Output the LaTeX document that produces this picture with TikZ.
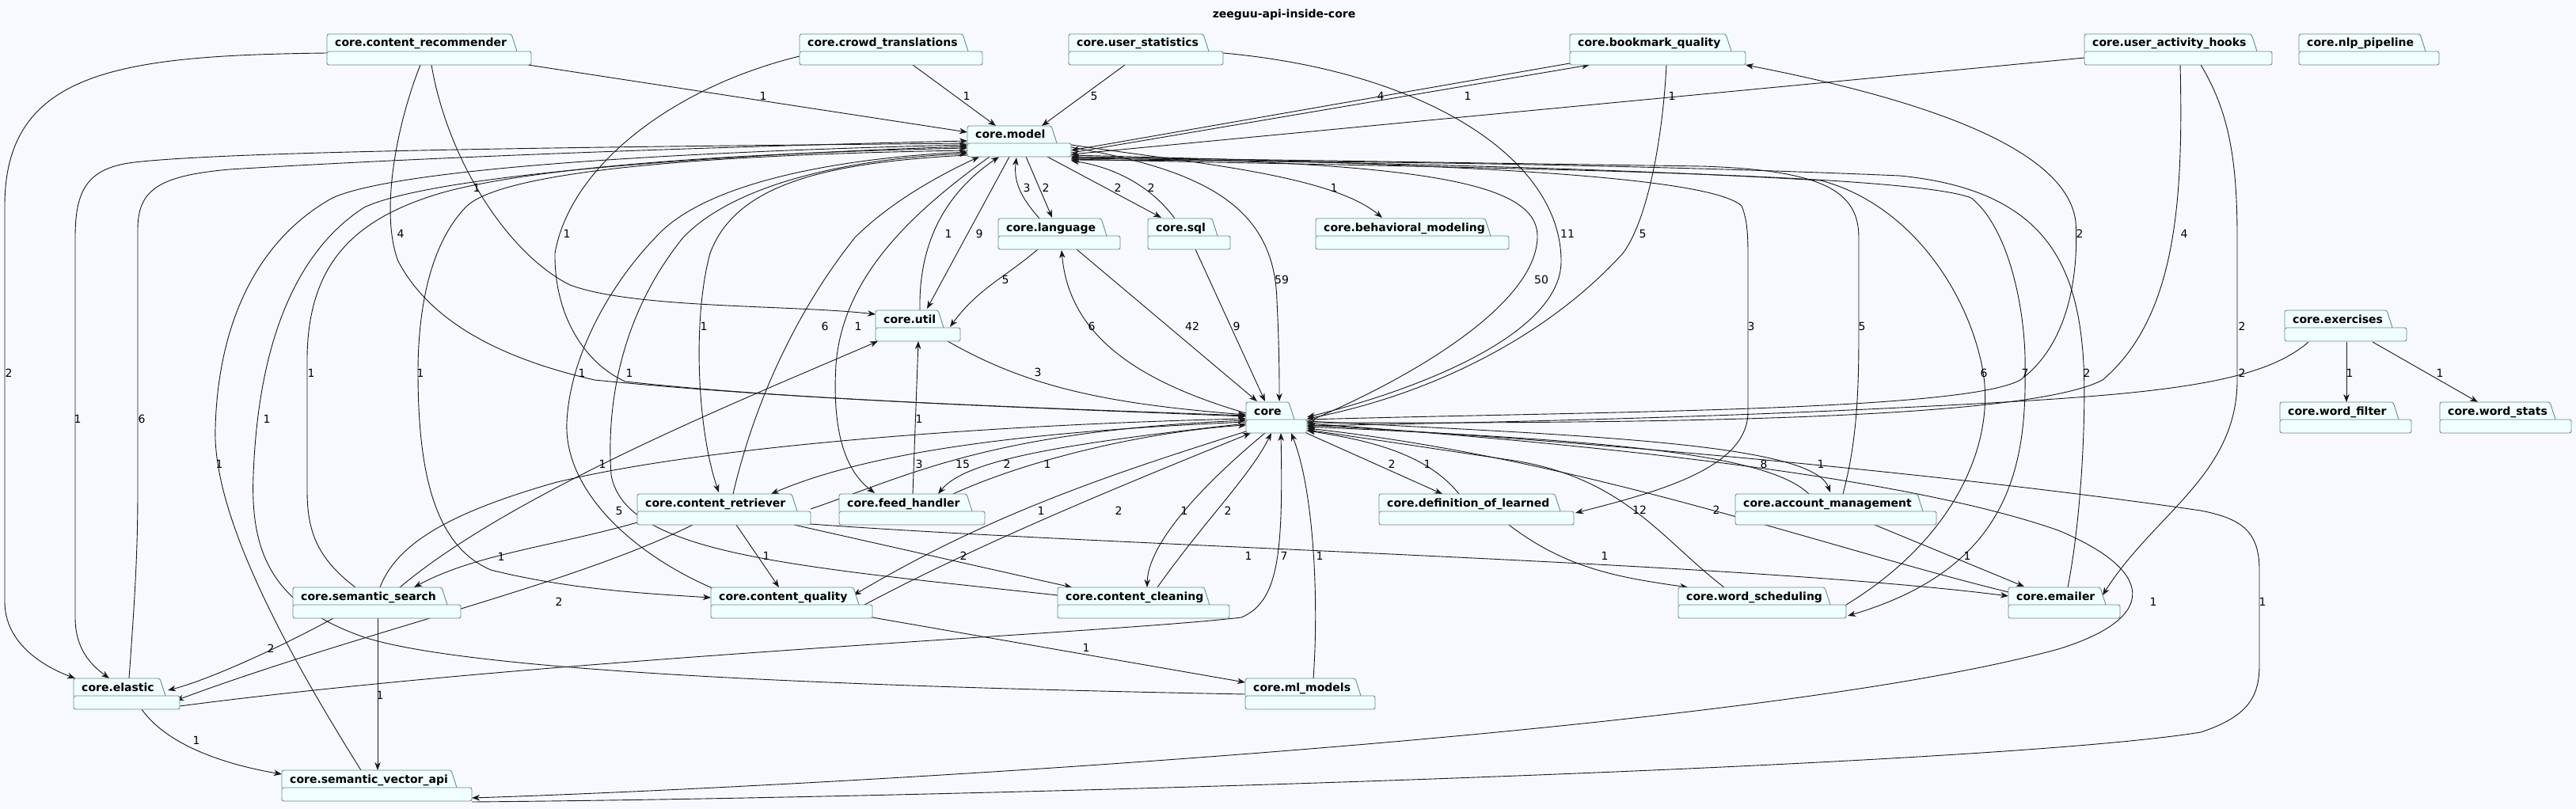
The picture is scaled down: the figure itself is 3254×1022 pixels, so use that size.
\documentclass[tikz,border=0pt]{standalone}
\usepackage{fontspec}
\setmainfont{DejaVu Sans}
\usetikzlibrary{arrows.meta}
\definecolor{bg}{HTML}{F8F9FE}
\definecolor{pkgfill}{HTML}{F0FFFE}
\definecolor{pkgline}{HTML}{6A8A88}
\definecolor{edgec}{HTML}{181818}
\pgfdeclarelayer{bgl}
\pgfdeclarelayer{edges}
\pgfsetlayers{bgl,edges,main}
\tikzset{
 pkgnode/.style={anchor=north west, inner sep=0pt, outer sep=0pt, minimum height=39pt},
 pkgshape/.style={fill=pkgfill, draw=pkgline, line width=0.9pt, rounded corners=2.5pt},
 pkgtext/.style={anchor=base west, inner sep=0pt, font=\bfseries\fontsize{14}{16}\selectfont},
 dep/.style={draw=edgec, line width=0.9pt, -{Stealth[length=10pt,width=7.5pt,inset=3pt]}},
 lbl/.style={inner sep=0pt, font=\fontsize{14}{16}\selectfont, text=black},
}
\newcommand\pkg[6]{%
  \node[pkgnode, minimum width={(#5-#2)*1pt}] (#1) at (#2,#3) {};
  \path[pkgshape] (#2,#3+22) -- (#2,#3) -- (#4-7,#3) -- (#4,#3+22);
  \path[pkgshape] (#2,#3+22) rectangle (#5,#3+39);
  \node[pkgtext] (#1t) at (#2+10,#3+16) {#6};
}
\newcommand\lab[3]{\node[lbl] (lab#1x#2) at (#1,#2) {#3};}
\begin{document}
\begin{tikzpicture}[x=1pt,y=-1pt]
\begin{pgfonlayer}{bgl}
\fill[bg] (0,0) rectangle (3254,1022);
\end{pgfonlayer}
\useasboundingbox (0,0) rectangle (3254,1022);
\node[anchor=base, inner sep=0pt, font=\bfseries\fontsize{14}{16}\selectfont] (title) at (1622,23) {zeeguu-api-inside-core};

% ---------------- packages ----------------
\pkg{cr}{413}{43}{653}{671}{core.content\_recommender}
\pkg{ct}{1010}{43}{1223}{1241}{core.crowd\_translations}
\pkg{us}{1350}{43}{1527}{1545}{core.user\_statistics}
\pkg{bq}{1983}{43}{2187}{2205}{core.bookmark\_quality}
\pkg{uah}{2633}{43}{2851}{2870}{core.user\_activity\_hooks}
\pkg{nlp}{2904}{43}{3064}{3081}{core.nlp\_pipeline}
\pkg{model}{1222}{159}{1335}{1353}{core.model}
\pkg{lang}{1261}{276}{1398}{1415}{core.language}
\pkg{sql}{1450}{276}{1538}{1554}{core.sql}
\pkg{beh}{1662}{276}{1883}{1906}{core.behavioral\_modeling}
\pkg{util}{1106}{392}{1192}{1213}{core.util}
\pkg{core}{1574}{508}{1635}{1651}{core}
\pkg{ex}{2886}{392}{3022}{3040}{core.exercises}
\pkg{wf}{2880}{508}{3030}{3046}{core.word\_filter}
\pkg{wst}{3082}{508}{3228}{3248}{core.word\_stats}
\pkg{cret}{805}{624}{1007}{1024}{core.content\_retriever}
\pkg{fh}{1060}{624}{1228}{1244}{core.feed\_handler}
\pkg{dol}{1742}{624}{1971}{1988}{core.definition\_of\_learned}
\pkg{am}{2192}{624}{2429}{2446}{core.account\_management}
\pkg{ss}{370}{742}{565}{582}{core.semantic\_search}
\pkg{cq}{898}{742}{1085}{1102}{core.content\_quality}
\pkg{cc}{1336}{742}{1528}{1553}{core.content\_cleaning}
\pkg{wsch}{2120}{742}{2312}{2332}{core.word\_scheduling}
\pkg{em}{2537}{742}{2660}{2678}{core.emailer}
\pkg{el}{93}{857}{209}{227}{core.elastic}
\pkg{ml}{1573}{857}{1719}{1737}{core.ml\_models}
\pkg{sva}{356}{973}{577}{596}{core.semantic\_vector\_api}

\begin{pgfonlayer}{edges}
% ---------------- edges ----------------
\draw[dep] ([shift={(667-413,82-43)}]cr.north west) -- ([shift={(1222-1222,167-159)}]model.north west);
\draw[dep] ([shift={(1153-1010,82-43)}]ct.north west) -- ([shift={(1258-1222,159-159)}]model.north west);
\draw[dep] ([shift={(1421-1350,82-43)}]us.north west) -- ([shift={(1316-1222,159-159)}]model.north west);
\draw[dep] ([shift={(1983-1983,80-43)}]bq.north west) -- ([shift={(1353-1222,190-159)}]model.north west);
\draw[dep] ([shift={(1353-1222,193-159)}]model.north west) -- ([shift={(2008-1983,82-43)}]bq.north west);
\draw[dep] ([shift={(2633-2633,73-43)}]uah.north west) -- ([shift={(1353-1222,195-159)}]model.north west);
% cr -> elastic
\draw[dep] ([shift={(413-413,67-43)}]cr.north west) .. controls (150,70) and (6,90) .. (6,260) -- (6,760) .. controls (6,810) and (50,840) .. ([shift={(95-93,857-857)}]el.north west);
% model -> elastic
\draw[dep] ([shift={(1222-1222,181-159)}]model.north west) .. controls (800,185) and (300,190) .. (170,205) .. controls (110,212) and (95,240) .. (95,300) -- (95,780) .. controls (95,820) and (115,840) .. ([shift={(138-93,857-857)}]el.north west);
% elastic -> model
\draw[dep] ([shift={(163-93,857-857)}]el.north west) .. controls (170,760) and (174,700) .. (174,620) -- (174,290) .. controls (174,240) and (200,222) .. (290,214) .. controls (600,195) and (1000,183) .. ([shift={(1222-1222,178-159)}]model.north west);
% sva -> model
\draw[dep] ([shift={(456-356,973-973)}]sva.north west) .. controls (360,820) and (268,650) .. (272,540) .. controls (276,400) and (330,300) .. (420,250) .. controls (520,205) and (1000,188) .. ([shift={(1222-1222,183-159)}]model.north west);
% ml -> model
\draw[dep] ([shift={(1573-1573,877-857)}]ml.north west) .. controls (1100,868) and (600,850) .. (460,805) .. controls (345,765) and (316,700) .. (320,600) .. controls (326,440) and (370,320) .. (460,262) .. controls (560,215) and (1000,192) .. ([shift={(1222-1222,185-159)}]model.north west);
% ss -> model
\draw[dep] ([shift={(449-370,742-742)}]ss.north west) .. controls (400,705) and (388,670) .. (388,620) -- (388,450) .. controls (390,330) and (450,275) .. (560,243) .. controls (700,205) and (1000,192) .. ([shift={(1222-1222,187-159)}]model.north west);
% model -> cq
\draw[dep] ([shift={(1222-1222,190-159)}]model.north west) .. controls (900,195) and (640,215) .. (590,260) .. controls (540,310) and (528,400) .. (528,470) .. controls (528,600) and (550,690) .. (620,720) .. controls (720,745) and (820,750) .. ([shift={(898-898,755-742)}]cq.north west);
% cq -> model
\draw[dep] ([shift={(900-898,743-742)}]cq.north west) .. controls (800,700) and (712,620) .. (716,533) .. controls (720,450) and (770,360) .. (828,300) .. controls (890,230) and (1060,200) .. ([shift={(1222-1222,192-159)}]model.north west);
% cc -> model
\draw[dep] ([shift={(1336-1336,752-742)}]cc.north west) .. controls (1000,715) and (790,700) .. (772,600) .. controls (765,500) and (790,390) .. (863,300) .. controls (930,230) and (1080,200) .. ([shift={(1222-1222,194-159)}]model.north west);
% model -> cret
\draw[dep] ([shift={(1222-1222,196-159)}]model.north west) .. controls (1050,205) and (930,230) .. (897,320) .. controls (875,400) and (880,540) .. ([shift={(908-805,622-624)}]cret.north west);
% cret -> model
\draw[dep] ([shift={(926-805,624-624)}]cret.north west) .. controls (950,520) and (1000,400) .. (1080,300) .. controls (1130,250) and (1200,215) .. ([shift={(1237-1222,198-159)}]model.north west);
% model -> fh
\draw[dep] ([shift={(1250-1222,198-159)}]model.north west) .. controls (1150,270) and (1065,350) .. (1056,460) .. controls (1050,560) and (1075,600) .. ([shift={(1105-1060,623-624)}]fh.north west);
% util -> model, model -> util
\draw[dep] ([shift={(1162-1106,392-392)}]util.north west) .. controls (1160,300) and (1200,240) .. ([shift={(1262-1222,198-159)}]model.north west);
\draw[dep] ([shift={(1275-1222,198-159)}]model.north west) -- ([shift={(1171-1106,390-392)}]util.north west);
% model <-> lang
\draw[dep] ([shift={(1296-1222,198-159)}]model.north west) -- ([shift={(1329-1261,275-276)}]lang.north west);
\draw[dep] ([shift={(1313-1261,276-276)}]lang.north west) .. controls (1290,250) and (1280,230) .. ([shift={(1284-1222,199-159)}]model.north west);
% model <-> sql
\draw[dep] ([shift={(1323-1222,198-159)}]model.north west) -- ([shift={(1467-1450,275-276)}]sql.north west);
\draw[dep] ([shift={(1484-1450,276-276)}]sql.north west) .. controls (1450,230) and (1400,210) .. ([shift={(1353-1222,203-159)}]model.north west);
% model -> behavioral
\draw[dep] ([shift={(1353-1222,183-159)}]model.north west) .. controls (1500,205) and (1680,220) .. ([shift={(1746-1662,275-276)}]beh.north west);
% model -> core 59
\draw[dep] ([shift={(1353-1222,186-159)}]model.north west) .. controls (1520,215) and (1610,260) .. (1613,380) .. controls (1616,440) and (1616,480) .. ([shift={(1616-1574,507-508)}]core.north west);
% core -> model 50
\draw[dep] ([shift={(1651-1574,533-508)}]core.north west) .. controls (1800,470) and (1940,380) .. (1942,300) .. controls (1944,230) and (1800,205) .. ([shift={(1353-1222,198-159)}]model.north west);
% lang -> core, core -> lang, sql -> core
\draw[dep] ([shift={(1360-1261,315-276)}]lang.north west) -- ([shift={(1588-1574,507-508)}]core.north west);
\draw[dep] ([shift={(1574-1574,522-508)}]core.north west) .. controls (1430,480) and (1350,420) .. ([shift={(1341-1261,316-276)}]lang.north west);
\draw[dep] ([shift={(1510-1450,315-276)}]sql.north west) -- ([shift={(1598-1574,507-508)}]core.north west);
% lang -> util
\draw[dep] ([shift={(1311-1261,315-276)}]lang.north west) .. controls (1270,350) and (1235,365) .. ([shift={(1200-1106,413-392)}]util.north west);
% util -> core
\draw[dep] ([shift={(1197-1106,431-392)}]util.north west) .. controls (1300,490) and (1400,510) .. ([shift={(1574-1574,524-508)}]core.north west);
% cr -> util
\draw[dep] ([shift={(545-413,82-43)}]cr.north west) .. controls (565,200) and (640,320) .. (720,360) .. controls (800,390) and (1000,385) .. ([shift={(1106-1106,397-392)}]util.north west);
% cr -> core
\draw[dep] ([shift={(531-413,82-43)}]cr.north west) .. controls (500,160) and (480,270) .. (503,330) .. controls (540,400) and (620,450) .. (751,480) .. controls (1000,505) and (1300,515) .. ([shift={(1574-1574,525-508)}]core.north west);
% ct -> core
\draw[dep] ([shift={(1010-1010,71-43)}]ct.north west) .. controls (850,110) and (720,210) .. (701,320) .. controls (700,400) and (740,460) .. (790,482) .. controls (1000,505) and (1300,515) .. ([shift={(1574-1574,526-508)}]core.north west);
% fh -> util
\draw[dep] ([shift={(1153-1060,624-624)}]fh.north west) -- ([shift={(1160-1106,431-392)}]util.north west);
% cret <-> core, core <-> fh
\draw[dep] ([shift={(1024-805,643-624)}]cret.north west) .. controls (1150,600) and (1250,545) .. ([shift={(1574-1574,531-508)}]core.north west);
\draw[dep] ([shift={(1574-1574,533-508)}]core.north west) .. controls (1300,545) and (1100,570) .. ([shift={(974-805,624-624)}]cret.north west);
\draw[dep] ([shift={(1574-1574,535-508)}]core.north west) .. controls (1350,560) and (1220,580) .. ([shift={(1185-1060,624-624)}]fh.north west);
\draw[dep] ([shift={(1204-1060,624-624)}]fh.north west) .. controls (1300,580) and (1450,545) .. ([shift={(1574-1574,537-508)}]core.north west);
% ss -> core
\draw[dep] ([shift={(480-370,742-742)}]ss.north west) .. controls (500,690) and (560,650) .. (700,610) .. controls (900,560) and (1300,535) .. ([shift={(1574-1574,529-508)}]core.north west);
% ss -> util
\draw[dep] ([shift={(505-370,742-742)}]ss.north west) .. controls (650,620) and (950,500) .. ([shift={(1109-1106,431-392)}]util.north west);
% cret -> ss, cq, cc, el
\draw[dep] ([shift={(805-805,660-624)}]cret.north west) .. controls (700,690) and (600,700) .. ([shift={(523-370,742-742)}]ss.north west);
\draw[dep] ([shift={(930-805,663-624)}]cret.north west) -- ([shift={(984-898,742-742)}]cq.north west);
\draw[dep] ([shift={(1003-805,663-624)}]cret.north west) -- ([shift={(1354-1336,742-742)}]cc.north west);
\draw[dep] ([shift={(875-805,663-624)}]cret.north west) .. controls (720,740) and (450,800) .. ([shift={(222-93,885-857)}]el.north west);
% ss -> el, ss -> sva
\draw[dep] ([shift={(421-370,781-742)}]ss.north west) .. controls (350,820) and (260,860) .. ([shift={(212-93,872-857)}]el.north west);
\draw[dep] ([shift={(477-370,781-742)}]ss.north west) -- ([shift={(477-356,973-973)}]sva.north west);
% el -> sva
\draw[dep] ([shift={(179-93,896-857)}]el.north west) .. controls (210,940) and (280,965) .. ([shift={(356-356,978-973)}]sva.north west);
% core <-> cq
\draw[dep] ([shift={(1574-1574,545-508)}]core.north west) .. controls (1400,600) and (1250,650) .. ([shift={(1078-898,752-742)}]cq.north west);
\draw[dep] ([shift={(1092-898,764-742)}]cq.north west) .. controls (1250,680) and (1450,600) .. ([shift={(1580-1574,547-508)}]core.north west);
% core <-> cc
\draw[dep] ([shift={(1598-1574,547-508)}]core.north west) .. controls (1510,620) and (1450,690) .. ([shift={(1449-1336,742-742)}]cc.north west);
\draw[dep] ([shift={(1462-1336,742-742)}]cc.north west) .. controls (1520,660) and (1580,600) .. ([shift={(1606-1574,547-508)}]core.north west);
% el -> core 7
\draw[dep] ([shift={(227-93,892-857)}]el.north west) .. controls (700,830) and (1400,800) .. (1568,780) .. controls (1615,760) and (1621,700) .. ([shift={(1618-1574,547-508)}]core.north west);
% ml -> core
\draw[dep] ([shift={(1659-1573,857-857)}]ml.north west) .. controls (1666,760) and (1660,620) .. ([shift={(1631-1574,547-508)}]core.north west);
% cq -> ml
\draw[dep] ([shift={(1102-898,780-742)}]cq.north west) -- ([shift={(1573-1573,862-857)}]ml.north west);
% cret -> emailer
\draw[dep] ([shift={(1024-805,662-624)}]cret.north west) .. controls (1400,690) and (2200,710) .. ([shift={(2537-2537,753-742)}]em.north west);
% core -> sva
\draw[dep] ([shift={(1651-1574,535-508)}]core.north west) .. controls (2000,560) and (2400,600) .. (2600,670) .. controls (2720,720) and (2730,780) .. (2600,820) .. controls (2200,930) and (1000,995) .. ([shift={(596-356,1008-973)}]sva.north west);
% sva -> core
\draw[dep] ([shift={(596-356,1013-973)}]sva.north west) .. controls (1200,1008) and (2500,970) .. (2780,925) .. controls (2840,905) and (2854,880) .. (2854,840) -- (2854,720) .. controls (2854,670) and (2830,655) .. (2780,645) .. controls (2400,590) and (1900,550) .. ([shift={(1651-1574,537-508)}]core.north west);
% hooks -> core
\draw[dep] ([shift={(2754-2633,82-43)}]uah.north west) .. controls (2758,250) and (2750,400) .. (2656,480) .. controls (2560,530) and (2100,535) .. ([shift={(1651-1574,534-508)}]core.north west);
% hooks -> emailer
\draw[dep] ([shift={(2780-2633,82-43)}]uah.north west) .. controls (2815,140) and (2826,200) .. (2826,300) -- (2826,480) .. controls (2826,600) and (2720,650) .. ([shift={(2656-2537,752-742)}]em.north west);
% exercises
\draw[dep] ([shift={(2916-2886,432-392)}]ex.north west) .. controls (2850,490) and (2700,500) .. (2400,515) .. controls (2100,530) and (1800,535) .. ([shift={(1651-1574,538-508)}]core.north west);
\draw[dep] ([shift={(2964-2886,432-392)}]ex.north west) -- ([shift={(2964-2880,508-508)}]wf.north west);
\draw[dep] ([shift={(2997-2886,432-392)}]ex.north west) -- ([shift={(3130-3082,508-508)}]wst.north west);
% core -> bq
\draw[dep] ([shift={(1651-1574,530-508)}]core.north west) .. controls (2000,520) and (2480,520) .. (2552,480) .. controls (2620,430) and (2625,330) .. (2622,280) .. controls (2610,180) and (2400,120) .. ([shift={(2205-1983,82-43)}]bq.north west);
% us -> core
\draw[dep] ([shift={(1545-1350,67-43)}]us.north west) .. controls (1800,90) and (1972,200) .. (1972,330) .. controls (1972,420) and (1800,490) .. ([shift={(1651-1574,527-508)}]core.north west);
% bq -> core
\draw[dep] ([shift={(2105-1983,82-43)}]bq.north west) .. controls (2100,180) and (2080,280) .. (2050,320) .. controls (1950,430) and (1800,500) .. ([shift={(1651-1574,529-508)}]core.north west);
% model -> dol
\draw[dep] ([shift={(1353-1222,196-159)}]model.north west) .. controls (1700,205) and (2150,215) .. (2200,260) .. controls (2208,280) and (2208,300) .. (2208,330) -- (2208,520) .. controls (2208,590) and (2100,620) .. ([shift={(1990-1742,648-624)}]dol.north west);
% am -> model
\draw[dep] ([shift={(2328-2192,624-624)}]am.north west) .. controls (2345,560) and (2348,500) .. (2348,420) -- (2348,300) .. controls (2348,240) and (2300,215) .. (2150,210) .. controls (1800,205) and (1500,200) .. ([shift={(1353-1222,199-159)}]model.north west);
% wsch -> model
\draw[dep] ([shift={(2332-2120,764-742)}]wsch.north west) .. controls (2470,680) and (2520,560) .. (2505,470) .. controls (2490,380) and (2420,260) .. (2300,228) .. controls (2000,210) and (1600,203) .. ([shift={(1353-1222,200-159)}]model.north west);
% model -> wsch
\draw[dep] ([shift={(1353-1222,201-159)}]model.north west) .. controls (1700,210) and (2400,215) .. (2490,250) .. controls (2540,290) and (2560,400) .. (2558,470) .. controls (2560,600) and (2530,720) .. ([shift={(2334-2120,778-742)}]wsch.north west);
% em -> model
\draw[dep] ([shift={(2612-2537,742-742)}]em.north west) .. controls (2630,650) and (2635,520) .. (2632,460) .. controls (2625,330) and (2580,240) .. (2400,222) .. controls (2000,205) and (1600,203) .. ([shift={(1353-1222,202-159)}]model.north west);
% core <-> dol
\draw[dep] ([shift={(1650-1574,547-508)}]core.north west) -- ([shift={(1822-1742,624-624)}]dol.north west);
\draw[dep] ([shift={(1843-1742,624-624)}]dol.north west) .. controls (1800,570) and (1720,555) .. ([shift={(1651-1574,544-508)}]core.north west);
% dol -> wsch
\draw[dep] ([shift={(1906-1742,663-624)}]dol.north west) .. controls (1980,720) and (2050,730) .. ([shift={(2132-2120,742-742)}]wsch.north west);
% wsch -> core
\draw[dep] ([shift={(2178-2120,742-742)}]wsch.north west) .. controls (2097,680) and (2050,600) .. (1900,580) .. controls (1800,565) and (1700,550) .. ([shift={(1651-1574,543-508)}]core.north west);
% em -> core
\draw[dep] ([shift={(2537-2537,748-742)}]em.north west) .. controls (2300,690) and (2000,580) .. ([shift={(1651-1574,541-508)}]core.north west);
% am <-> core
\draw[dep] ([shift={(2285-2192,624-624)}]am.north west) .. controls (2230,570) and (2000,555) .. ([shift={(1651-1574,539-508)}]core.north west);
\draw[dep] ([shift={(1651-1574,532-508)}]core.north west) .. controls (2000,550) and (2290,560) .. ([shift={(2312-2192,622-624)}]am.north west);
% am -> em
\draw[dep] ([shift={(2368-2192,663-624)}]am.north west) -- ([shift={(2557-2537,741-742)}]em.north west);
\end{pgfonlayer}

% ---------------- labels ----------------
\lab{964}{121}{1}\lab{1221}{121}{1}\lab{1382}{121}{5}\lab{1744}{121}{4}\lab{1854}{121}{1}\lab{2112}{121}{1}
\lab{602}{237}{1}\lab{1297}{237}{3}\lab{1321}{237}{2}\lab{1412}{237}{2}\lab{1454}{237}{2}\lab{1685}{237}{1}
\lab{506}{295}{4}\lab{716}{295}{1}\lab{1198}{295}{1}\lab{1237}{295}{9}\lab{1980}{295}{11}\lab{2075}{295}{5}\lab{2627}{295}{2}\lab{2759}{295}{4}
\lab{1270}{353}{5}\lab{1619}{353}{59}\lab{1947}{353}{50}
\lab{889}{412}{1}\lab{1042}{412}{6}\lab{1084}{412}{1}\lab{1379}{412}{6}\lab{1506}{412}{42}\lab{1562}{412}{9}\lab{2212}{412}{3}\lab{2352}{412}{5}\lab{2832}{412}{2}
\lab{11}{471}{2}\lab{393}{471}{1}\lab{531}{471}{1}\lab{735}{471}{1}\lab{795}{471}{1}\lab{1311}{470}{3}\lab{2506}{471}{6}\lab{2558}{471}{7}\lab{2636}{471}{2}\lab{2832}{471}{2}\lab{2968}{471}{1}\lab{3082}{471}{1}
\lab{98}{529}{1}\lab{179}{529}{6}\lab{337}{529}{1}\lab{1161}{529}{1}
\lab{277}{586}{1}\lab{761}{586}{1}\lab{1161}{586}{3}\lab{1216}{586}{15}\lab{1272}{586}{2}\lab{1323}{586}{1}\lab{1758}{586}{2}\lab{1803}{586}{1}\lab{2228}{586}{8}\lab{2300}{586}{1}
\lab{782}{645}{5}\lab{1315}{645}{1}\lab{1413}{645}{2}\lab{1496}{645}{1}\lab{1551}{645}{2}\lab{2071}{644}{12}\lab{2168}{644}{2}
\lab{633}{703}{1}\lab{968}{702}{1}\lab{1217}{702}{2}\lab{1577}{702}{1}\lab{1622}{702}{7}\lab{1667}{702}{1}\lab{2027}{702}{1}\lab{2485}{702}{1}
\lab{706}{760}{2}\lab{2720}{760}{1}\lab{2858}{760}{1}
\lab{342}{819}{2}\lab{1372}{818}{1}
\lab{480}{878}{1}
\lab{248}{935}{1}
\end{tikzpicture}
\end{document}
